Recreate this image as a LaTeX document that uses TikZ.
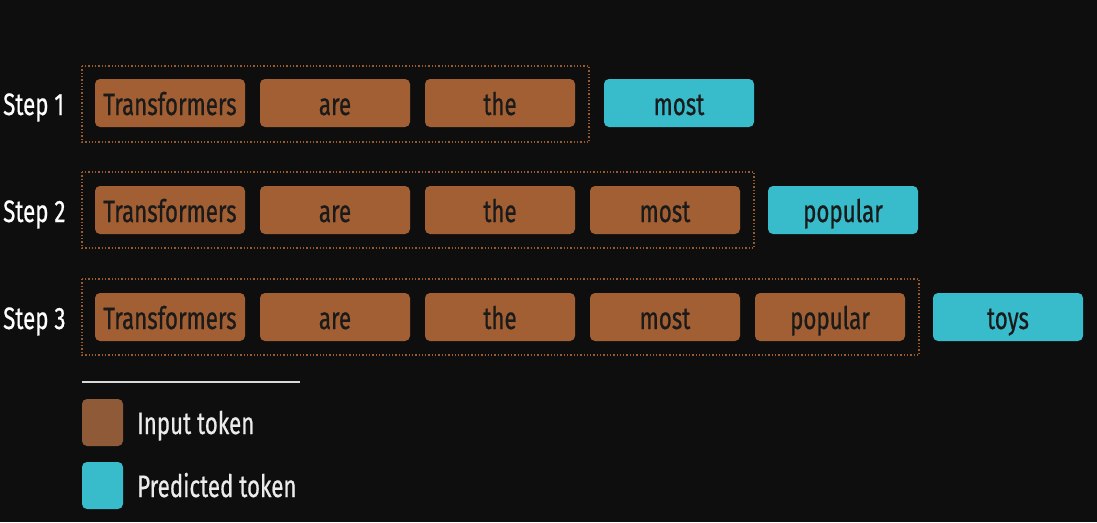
\documentclass[tikz,border=0pt]{standalone}
\usepackage{fontspec}
\setmainfont{Fira Sans}[FakeStretch=0.72,FakeBold=0.6]
\definecolor{bg}{HTML}{0E0E0E}
\definecolor{tokbrown}{HTML}{A15F33}
\definecolor{legbrown}{HTML}{8E5A38}
\definecolor{tokcyan}{HTML}{38BBCA}
\definecolor{tokink}{HTML}{1A1A1A}
\definecolor{frame}{HTML}{9A5A30}
\tikzset{
  x=1pt,y=-1pt,
  tok/.style={minimum width=150pt,minimum height=48pt,rounded corners=5pt,inner sep=0pt,text height=24pt,text depth=0pt,text=tokink,font=\fontsize{31}{34}\selectfont},
  inp/.style={tok,fill=tokbrown},
  pred/.style={tok,fill=tokcyan},
  steplbl/.style={text=white,font=\fontsize{31}{34}\selectfont,anchor=base west,inner sep=0pt},
  grp/.style={draw=frame,dotted,line width=1.3pt},
  legbox/.style={rounded corners=5pt,minimum width=41pt,minimum height=47pt,inner sep=0pt},
  leglbl/.style={text=white!92!black,font=\fontsize{31}{34}\selectfont,anchor=base west,inner sep=0pt},
}
\begin{document}
\begin{tikzpicture}
\fill[bg] (0,0) rectangle (1097,522);
\useasboundingbox (0,0) rectangle (1097,522);
% Step 1
\node[steplbl] (s1) at (3,115) {Step 1};
\node[inp] (a1) at (170,103) {Transformers};
\node[inp] (a2) at (335,103) {are};
\node[inp] (a3) at (500,103) {the};
\node[pred] (a4) at (679,103) {most};
\draw[grp] (82,66) rectangle (589,142);
% Step 2
\node[steplbl] (s2) at (3,222) {Step 2};
\node[inp] (b1) at (170,210) {Transformers};
\node[inp] (b2) at (335,210) {are};
\node[inp] (b3) at (500,210) {the};
\node[inp] (b4) at (665,210) {most};
\node[pred] (b5) at (843,210) {popular};
\draw[grp] (82,172) rectangle (754,248);
% Step 3
\node[steplbl] (s3) at (3,329) {Step 3};
\node[inp] (c1) at (170,317) {Transformers};
\node[inp] (c2) at (335,317) {are};
\node[inp] (c3) at (500,317) {the};
\node[inp] (c4) at (665,317) {most};
\node[inp] (c5) at (830,317) {popular};
\node[pred] (c6) at (1008,317) {toys};
\draw[grp] (82,279) rectangle (919,355);
% Legend
\draw[white!85!black,line width=2pt] (82,382) -- (300,382);
\node[legbox,fill=legbrown] (l1) at (102.5,422.5) {};
\node[legbox,fill=tokcyan] (l2) at (102.5,485.5) {};
\node[leglbl] (t1) at (137,434) {Input token};
\node[leglbl] (t2) at (137,497) {Predicted token};
\end{tikzpicture}
\end{document}
